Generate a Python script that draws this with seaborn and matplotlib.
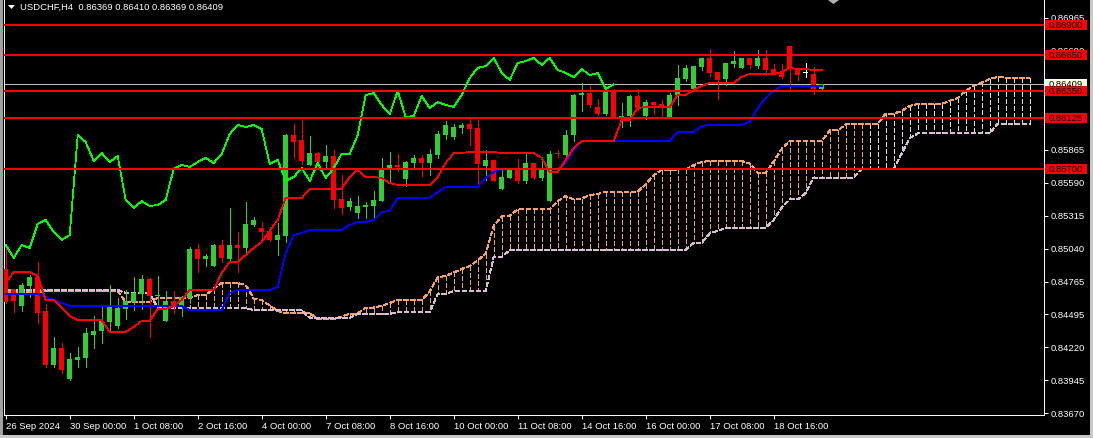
import matplotlib
matplotlib.use("Agg")
import matplotlib.pyplot as plt
import matplotlib.transforms as mtransforms
from matplotlib.patches import Rectangle, Polygon
import numpy as np
import pandas as pd
import seaborn as sns

# ---- chart data (USDCHF H4, 26 Sep 16:00 .. 21 Oct 16:00) ----
opens = [
    0.84870, 0.84703, 0.84562, 0.84728, 0.84803, 0.84520, 0.84071, 0.84212, 0.83954, 0.84112,
    0.84129, 0.84320, 0.84353, 0.84428, 0.84395, 0.84537, 0.84595, 0.84662, 0.84787, 0.84645,
    0.84437, 0.84603, 0.84553, 0.84628, 0.85037, 0.84953, 0.84895, 0.85070, 0.84953, 0.85070,
    0.85045, 0.85237, 0.85212, 0.85187, 0.85112, 0.85145, 0.85986, 0.85945, 0.85736, 0.85836,
    0.85761, 0.85811, 0.85453, 0.85387, 0.85337, 0.85387, 0.85395, 0.85436, 0.85695, 0.85736,
    0.85620, 0.85753, 0.85795, 0.85753, 0.85820, 0.85986, 0.85970, 0.86045, 0.86078, 0.86045,
    0.85728, 0.85778, 0.85536, 0.85628, 0.85711, 0.85603, 0.85753, 0.85628, 0.85436, 0.85836,
    0.85820, 0.85986, 0.86320, 0.86336, 0.86220, 0.86161, 0.86361, 0.86136, 0.86145, 0.86311,
    0.86145, 0.86261, 0.86245, 0.86136, 0.86320, 0.86453, 0.86370, 0.86553, 0.86628, 0.86511,
    0.86453, 0.86578, 0.86545, 0.86628, 0.86561, 0.86628, 0.86536, 0.86511, 0.86728, 0.86536,
    0.86503, 0.86495, 0.86369,
]
highs = [
    0.85053, 0.84703, 0.84753, 0.84820, 0.84928, 0.84578, 0.84304, 0.84253, 0.84170, 0.84220,
    0.84379, 0.84478, 0.84570, 0.84737, 0.84628, 0.84695, 0.84803, 0.84820, 0.84795, 0.84812,
    0.84687, 0.84687, 0.84645, 0.85053, 0.85078, 0.84995, 0.85078, 0.85112, 0.85378, 0.85178,
    0.85428, 0.85303, 0.85262, 0.85220, 0.85253, 0.85995, 0.86078, 0.86111, 0.85978, 0.85845,
    0.85903, 0.85861, 0.85653, 0.85462, 0.85478, 0.85428, 0.85520, 0.85795, 0.85845, 0.85828,
    0.85770, 0.85820, 0.85820, 0.85870, 0.86020, 0.86103, 0.86078, 0.86086, 0.86120, 0.86111,
    0.85861, 0.85778, 0.85695, 0.85711, 0.85786, 0.85845, 0.85753, 0.85778, 0.85853, 0.85861,
    0.86028, 0.86328, 0.86420, 0.86395, 0.86286, 0.86370, 0.86370, 0.86253, 0.86320, 0.86370,
    0.86278, 0.86261, 0.86278, 0.86336, 0.86570, 0.86570, 0.86561, 0.86628, 0.86703, 0.86511,
    0.86586, 0.86686, 0.86628, 0.86628, 0.86694, 0.86694, 0.86578, 0.86578, 0.86728, 0.86536,
    0.86586, 0.86553, 0.86410,
]
lows = [
    0.84587, 0.84511, 0.84520, 0.84637, 0.84420, 0.84054, 0.84054, 0.84004, 0.83945, 0.84054,
    0.84054, 0.84212, 0.84253, 0.84362, 0.84379, 0.84453, 0.84528, 0.84537, 0.84304, 0.84537,
    0.84437, 0.84503, 0.84478, 0.84587, 0.84845, 0.84895, 0.84895, 0.84928, 0.84945, 0.84845,
    0.85012, 0.85228, 0.85128, 0.85103, 0.84987, 0.85095, 0.85795, 0.85745, 0.85736, 0.85736,
    0.85703, 0.85378, 0.85328, 0.85362, 0.85295, 0.85295, 0.85295, 0.85436, 0.85603, 0.85686,
    0.85561, 0.85703, 0.85645, 0.85653, 0.85795, 0.85953, 0.85953, 0.86003, 0.85903, 0.85553,
    0.85611, 0.85603, 0.85536, 0.85628, 0.85586, 0.85586, 0.85620, 0.85611, 0.85436, 0.85803,
    0.85778, 0.85936, 0.86186, 0.86220, 0.86153, 0.86153, 0.86136, 0.86053, 0.86061, 0.86195,
    0.86120, 0.86161, 0.86145, 0.86136, 0.86236, 0.86436, 0.86370, 0.86528, 0.86478, 0.86286,
    0.86403, 0.86553, 0.86545, 0.86545, 0.86545, 0.86486, 0.86495, 0.86461, 0.86353, 0.86445,
    0.86470, 0.86328, 0.86369,
]
closes = [
    0.84595, 0.84603, 0.84737, 0.84803, 0.84503, 0.84071, 0.84212, 0.84029, 0.84120, 0.84137,
    0.84337, 0.84353, 0.84437, 0.84553, 0.84545, 0.84603, 0.84670, 0.84787, 0.84645, 0.84653,
    0.84603, 0.84553, 0.84637, 0.85037, 0.84953, 0.84978, 0.85070, 0.84962, 0.85070, 0.85045,
    0.85245, 0.85278, 0.85178, 0.85112, 0.85153, 0.85986, 0.85928, 0.85770, 0.85836, 0.85761,
    0.85811, 0.85445, 0.85378, 0.85436, 0.85395, 0.85403, 0.85445, 0.85703, 0.85736, 0.85720,
    0.85761, 0.85795, 0.85753, 0.85828, 0.85995, 0.86070, 0.86053, 0.86070, 0.86036, 0.85745,
    0.85778, 0.85603, 0.85636, 0.85711, 0.85603, 0.85753, 0.85628, 0.85711, 0.85828, 0.85828,
    0.85986, 0.86320, 0.86336, 0.86236, 0.86161, 0.86353, 0.86136, 0.86145, 0.86311, 0.86211,
    0.86261, 0.86236, 0.86220, 0.86320, 0.86461, 0.86545, 0.86561, 0.86628, 0.86503, 0.86445,
    0.86586, 0.86603, 0.86628, 0.86570, 0.86628, 0.86528, 0.86503, 0.86470, 0.86536, 0.86486,
    0.86503, 0.86369, 0.86409,
]

tenkan = [
    0.84753, 0.84845, 0.84845, 0.84845, 0.84812, 0.84612, 0.84612, 0.84545, 0.84478, 0.84445,
    0.84445, 0.84445, 0.84445, 0.84345, 0.84345, 0.84345, 0.84387, 0.84437, 0.84437, 0.84537,
    0.84537, 0.84562, 0.84612, 0.84695, 0.84695, 0.84695, 0.84695, 0.84837, 0.84928, 0.84928,
    0.84987, 0.85045, 0.85095, 0.85187, 0.85278, 0.85462, 0.85462, 0.85462, 0.85536, 0.85536,
    0.85536, 0.85536, 0.85536, 0.85636, 0.85695, 0.85636, 0.85636, 0.85628, 0.85586, 0.85570,
    0.85570, 0.85570, 0.85570, 0.85570, 0.85636, 0.85753, 0.85836, 0.85836, 0.85845, 0.85845,
    0.85845, 0.85845, 0.85836, 0.85836, 0.85836, 0.85836, 0.85836, 0.85795, 0.85678, 0.85678,
    0.85778, 0.85878, 0.85936, 0.85936, 0.85936, 0.85936, 0.85936, 0.86111, 0.86111, 0.86211,
    0.86220, 0.86220, 0.86220, 0.86220, 0.86320, 0.86320, 0.86361, 0.86395, 0.86420, 0.86420,
    0.86420, 0.86420, 0.86470, 0.86495, 0.86495, 0.86495, 0.86495, 0.86511, 0.86545, 0.86536,
    0.86536, 0.86528, 0.86528,
]
kijun = [
    0.84662, 0.84662, 0.84662, 0.84662, 0.84662, 0.84637, 0.84612, 0.84587, 0.84562, 0.84562,
    0.84562, 0.84562, 0.84562, 0.84562, 0.84562, 0.84562, 0.84562, 0.84562, 0.84562, 0.84562,
    0.84562, 0.84562, 0.84562, 0.84528, 0.84528, 0.84528, 0.84528, 0.84528, 0.84670, 0.84695,
    0.84695, 0.84695, 0.84695, 0.84695, 0.84720, 0.85003, 0.85153, 0.85170, 0.85195, 0.85195,
    0.85195, 0.85195, 0.85195, 0.85237, 0.85262, 0.85262, 0.85278, 0.85345, 0.85353, 0.85462,
    0.85462, 0.85462, 0.85462, 0.85462, 0.85511, 0.85553, 0.85553, 0.85553, 0.85553, 0.85553,
    0.85628, 0.85678, 0.85703, 0.85703, 0.85703, 0.85703, 0.85703, 0.85703, 0.85703, 0.85703,
    0.85753, 0.85861, 0.85936, 0.85936, 0.85936, 0.85936, 0.85936, 0.85936, 0.85936, 0.85936,
    0.85936, 0.85936, 0.85936, 0.85936, 0.86011, 0.86011, 0.86011, 0.86061, 0.86070, 0.86070,
    0.86070, 0.86070, 0.86070, 0.86095, 0.86211, 0.86295, 0.86353, 0.86395, 0.86395, 0.86395,
    0.86395, 0.86395, 0.86395,
]
span_a = [
    0.84678, 0.84678, 0.84678, 0.84678, 0.84678, 0.84687, 0.84687, 0.84687, 0.84687, 0.84687,
    0.84687, 0.84687, 0.84687, 0.84687, 0.84687, 0.84595, 0.84595, 0.84595, 0.84595, 0.84628,
    0.84628, 0.84628, 0.84628, 0.84628, 0.84653, 0.84653, 0.84707, 0.84753, 0.84753, 0.84753,
    0.84737, 0.84624, 0.84612, 0.84566, 0.84520, 0.84503, 0.84503, 0.84503, 0.84503, 0.84453,
    0.84453, 0.84453, 0.84474, 0.84499, 0.84499, 0.84549, 0.84549, 0.84562, 0.84587, 0.84612,
    0.84612, 0.84612, 0.84612, 0.84683, 0.84799, 0.84812, 0.84841, 0.84870, 0.84895, 0.84941,
    0.84999, 0.85232, 0.85307, 0.85315, 0.85366, 0.85366, 0.85366, 0.85366, 0.85366, 0.85436,
    0.85478, 0.85449, 0.85457, 0.85486, 0.85495, 0.85515, 0.85515, 0.85515, 0.85515, 0.85515,
    0.85574, 0.85653, 0.85695, 0.85695, 0.85699, 0.85699, 0.85736, 0.85761, 0.85770, 0.85770,
    0.85770, 0.85770, 0.85770, 0.85749, 0.85670, 0.85674, 0.85766, 0.85870, 0.85936, 0.85936,
    0.85936, 0.85936, 0.85936, 0.86024, 0.86024, 0.86074, 0.86078, 0.86078, 0.86078, 0.86078,
    0.86165, 0.86165, 0.86186, 0.86228, 0.86245, 0.86245, 0.86245, 0.86245, 0.86270, 0.86295,
    0.86353, 0.86395, 0.86424, 0.86453, 0.86470, 0.86465, 0.86465, 0.86461, 0.86461,
]
span_b = [
    0.84695, 0.84695, 0.84695, 0.84695, 0.84695, 0.84695, 0.84695, 0.84695, 0.84695, 0.84695,
    0.84695, 0.84695, 0.84695, 0.84695, 0.84695, 0.84670, 0.84670, 0.84670, 0.84670, 0.84545,
    0.84545, 0.84545, 0.84545, 0.84545, 0.84545, 0.84545, 0.84545, 0.84545, 0.84545, 0.84545,
    0.84545, 0.84528, 0.84528, 0.84528, 0.84528, 0.84528, 0.84528, 0.84528, 0.84462, 0.84462,
    0.84462, 0.84462, 0.84462, 0.84462, 0.84495, 0.84495, 0.84495, 0.84495, 0.84495, 0.84512,
    0.84512, 0.84512, 0.84512, 0.84512, 0.84662, 0.84662, 0.84687, 0.84687, 0.84687, 0.84687,
    0.84687, 0.84970, 0.84970, 0.85028, 0.85028, 0.85028, 0.85028, 0.85028, 0.85028, 0.85028,
    0.85028, 0.85028, 0.85028, 0.85028, 0.85028, 0.85028, 0.85028, 0.85028, 0.85028, 0.85028,
    0.85028, 0.85028, 0.85028, 0.85028, 0.85032, 0.85032, 0.85087, 0.85087, 0.85166, 0.85187,
    0.85212, 0.85212, 0.85212, 0.85212, 0.85212, 0.85212, 0.85278, 0.85382, 0.85449, 0.85449,
    0.85503, 0.85632, 0.85632, 0.85632, 0.85632, 0.85632, 0.85632, 0.85703, 0.85703, 0.85703,
    0.85703, 0.85703, 0.85832, 0.85961, 0.85999, 0.85999, 0.85999, 0.85999, 0.85999, 0.85999,
    0.85999, 0.85999, 0.85999, 0.85999, 0.86082, 0.86082, 0.86082, 0.86082, 0.86082,
]

level_prices = [0.86900, 0.86650, 0.86350, 0.86125, 0.85700]
bid_price = 0.86409

ytick_values = [0.86965, 0.86690, 0.86415, 0.86140, 0.85865, 0.85590, 0.85315,
                0.85040, 0.84765, 0.84495, 0.84220, 0.83945, 0.83670]
xtick_bars = [0, 8, 16, 24, 32, 40, 48, 56, 64, 72, 80, 88, 96]
xtick_labels = ["26 Sep 2024", "30 Sep 00:00", "1 Oct 08:00", "2 Oct 16:00", "4 Oct 00:00",
                "7 Oct 08:00", "8 Oct 16:00", "10 Oct 00:00", "11 Oct 08:00", "14 Oct 16:00",
                "16 Oct 00:00", "17 Oct 08:00", "18 Oct 16:00"]
header = "USDCHF,H4  0.86369 0.86410 0.86369 0.86409"

SHIFT = 26
W, H = 1093, 438
ONE_PX = 0.7          # line width (pt) that lands on one device pixel at 100 dpi
THIN = 0.55           # indicator lines, keeps sloped segments one pixel wide
UP, DOWN, DOJI = "#32CD32", "#FF0000", "#FFFFFF"
SANDY, THISTLE = "#F4A460", "#D8BFD8"


def main() -> None:
    sns.set_theme(style="dark", rc={
        "axes.facecolor": "black",
        "figure.facecolor": "black",
        "savefig.facecolor": "black",
        "axes.grid": False,
    })
    plt.rcParams["font.family"] = ["Liberation Sans", "DejaVu Sans"]

    fig = plt.figure(figsize=(W / 100, H / 100), dpi=100)
    ax = fig.add_axes([4 / W, 23 / H, 1040 / W, 415 / H])
    ax.set_facecolor("black")

    o = np.array(opens)
    h = np.array(highs)
    lo = np.array(lows)
    c = np.array(closes)
    bars = np.arange(len(c))

    colors = np.where(c > o, UP, np.where(c < o, DOWN, DOJI))

    # cloud, spans already shifted 26 bars forward
    cloud_x = np.arange(len(span_a))
    sa = np.array(span_a)
    sb = np.array(span_b)
    cloud_cols = np.where(sa >= sb, SANDY, THISTLE)
    cloud_cols[cloud_x >= 108] = "#E6DCE0"
    dot = (0, (5, 2.5))
    ax.vlines(cloud_x, sa, sb, colors=cloud_cols, linewidth=ONE_PX,
              linestyles=[dot], antialiased=False, zorder=1)
    ax.plot(cloud_x, sa, color=SANDY, linewidth=ONE_PX, linestyle=dot,
            antialiased=False, zorder=1.2)
    ax.plot(cloud_x, sb, color=THISTLE, linewidth=ONE_PX, linestyle=dot,
            antialiased=False, zorder=1.2)

    # bid line
    ax.axhline(bid_price, color="#C0C0C0", linewidth=ONE_PX, antialiased=False, zorder=1.5)

    # candles
    ax.vlines(bars, lo, h, colors=colors, linewidth=ONE_PX, antialiased=False, zorder=3)
    body_bottom = np.minimum(o, c)
    body_h = np.maximum(np.abs(c - o), 0.00007)
    ax.bar(bars, body_h, bottom=body_bottom, width=0.625, color=colors,
           linewidth=0, antialiased=False, zorder=4)

    # ichimoku lines
    ind = pd.DataFrame({"bar": bars, "tenkan": tenkan, "kijun": kijun})
    sns.lineplot(data=ind, x="bar", y="kijun", ax=ax, color="#0000FF",
                 linewidth=THIN, antialiased=False, zorder=5)
    sns.lineplot(data=ind, x="bar", y="tenkan", ax=ax, color="#FF0000",
                 linewidth=THIN, antialiased=False, zorder=5)
    chikou = pd.DataFrame({"bar": bars[:len(c) - SHIFT], "chikou": c[SHIFT:]})
    sns.lineplot(data=chikou, x="bar", y="chikou", ax=ax, color="#00FF00",
                 linewidth=THIN, antialiased=False, zorder=5)

    # horizontal levels
    for p in level_prices:
        ax.axhline(p, color="#FF0000", linewidth=1.4, antialiased=False, zorder=6)

    ax.set_xlim((4 - 5.7) / 8, (1044 - 5.7) / 8)
    slope = 0.00008331
    ax.set_ylim(0.87111 - 415 * slope, 0.87111)

    for side in ["left", "bottom", "right"]:
        ax.spines[side].set_visible(True)
        ax.spines[side].set_color("white")
        ax.spines[side].set_linewidth(ONE_PX)
    ax.spines["top"].set_visible(False)

    ax.yaxis.tick_right()
    ax.set_yticks(ytick_values)
    ax.set_yticklabels([f"{v:.5f}" for v in ytick_values])
    ax.set_xticks(xtick_bars)
    ax.set_xticklabels(xtick_labels, ha="left")
    ax.tick_params(axis="both", colors="white", labelsize=6.8, length=3,
                   width=ONE_PX, direction="out")
    ax.tick_params(axis="x", pad=2.2, bottom=True)
    ax.tick_params(axis="y", pad=2, right=True, left=False)
    ax.set_xlabel("")
    ax.set_ylabel("")

    # price labels on the scale
    trans = mtransforms.blended_transform_factory(ax.transAxes, ax.transData)
    bx0 = (1045 - 4) / 1040
    bw = 42 / 1040
    bh = 10 * slope
    labels = [(bid_price, "#FFFFE0")] + [(p, "#FF0000") for p in level_prices]
    for p, fc in labels:
        ax.add_patch(Rectangle((bx0, p - bh / 2), bw, bh, transform=trans,
                               facecolor=fc, edgecolor="none", clip_on=False, zorder=10))
        ax.text(bx0 + bw / 2, p, f"{p:.5f}", transform=trans, ha="center", va="center",
                color="black", fontsize=6.8, clip_on=False, zorder=11)

    # header and shift marker
    fig.text(20 / W, 1 - 7 / H, header, color="white", fontsize=6.8, ha="left", va="center")
    fig.patches.append(Polygon([(8 / W, 1 - 5 / H), (15 / W, 1 - 5 / H), (11.5 / W, 1 - 9 / H)],
                               closed=True, transform=fig.transFigure, facecolor="white",
                               edgecolor="none"))
    fig.patches.append(Polygon([(828 / W, 1.0), (839 / W, 1.0), (833.5 / W, 1 - 4 / H)],
                               closed=True, transform=fig.transFigure, facecolor="#B0B0B0",
                               edgecolor="none"))

    # window frame
    fig.patches.append(Rectangle((0, 0), 3 / W, 1, transform=fig.transFigure,
                                 facecolor="#A0A0A0", edgecolor="none"))
    fig.patches.append(Rectangle((1090 / W, 0), 3 / W, 1, transform=fig.transFigure,
                                 facecolor="#C8C8C8", edgecolor="none"))
    fig.patches.append(Rectangle((0, 0), 1, 3 / H, transform=fig.transFigure,
                                 facecolor="#C8C8C8", edgecolor="none"))

    fig.savefig("out.png", dpi=100, facecolor="black")
    plt.close(fig)


if __name__ == "__main__":
    main()
